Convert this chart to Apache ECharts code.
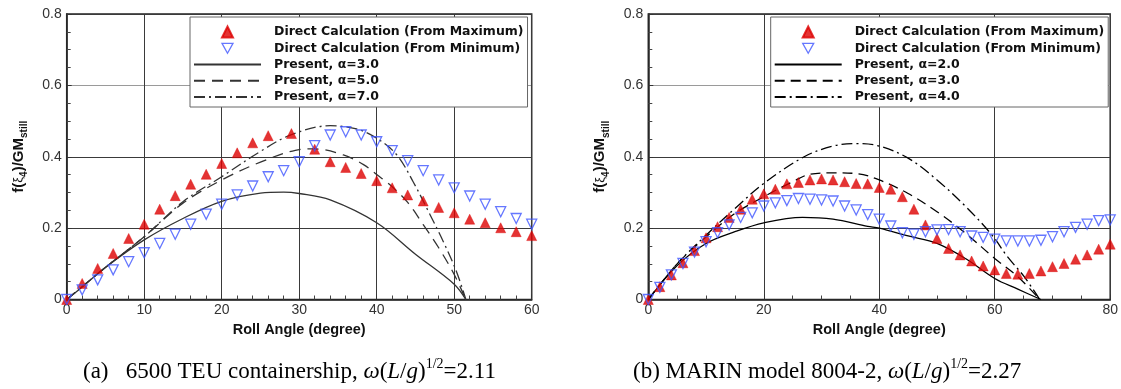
<!DOCTYPE html>
<html>
<head>
<meta charset="utf-8">
<title>Roll restoring comparison</title>
<script src="https://cdn.jsdelivr.net/npm/echarts@6/dist/echarts.min.js"></script>
<style>
  html, body { margin: 0; padding: 0; background: #fff; }
  #chart { width: 1121px; height: 389px; }
</style>
</head>
<body>
<div id="chart"></div>
<script>
// (a) 6500 TEU containership
const leftMaxX = [0, 2, 4, 6, 8, 10, 12, 14, 16, 18, 20, 22, 24, 26, 29, 32, 34, 36, 38, 40, 42, 44, 46, 48, 50, 52, 54, 56, 58, 60];
const leftMaxY = [0, 0.045, 0.087, 0.129, 0.171, 0.211, 0.253, 0.291, 0.323, 0.351, 0.381, 0.411, 0.439, 0.459, 0.465, 0.421, 0.386, 0.37, 0.353, 0.333, 0.313, 0.293, 0.276, 0.258, 0.243, 0.225, 0.215, 0.201, 0.19, 0.179];
const leftMinX = [0, 2, 4, 6, 8, 10, 12, 14, 16, 18, 20, 22, 24, 26, 28, 30, 32, 34, 36, 38, 40, 42, 44, 46, 48, 50, 52, 54, 56, 58, 60];
const leftMinY = [0, 0.027, 0.055, 0.083, 0.106, 0.131, 0.157, 0.183, 0.211, 0.239, 0.267, 0.293, 0.318, 0.344, 0.361, 0.386, 0.431, 0.461, 0.47, 0.461, 0.442, 0.417, 0.389, 0.361, 0.335, 0.313, 0.29, 0.267, 0.246, 0.227, 0.211];
const leftA3X = [0, 2, 5, 10, 15, 20, 25, 28, 30, 34, 40, 45, 50, 51.5];
const leftA3Y = [0, 0.035, 0.09, 0.167, 0.227, 0.275, 0.298, 0.301, 0.297, 0.279, 0.215, 0.127, 0.043, 0];
const leftA5X = [0, 5, 10, 15, 20, 25, 29.5, 32, 35.7, 38.3, 40, 42, 44, 46, 48, 50, 51.5];
const leftA5Y = [0, 0.09, 0.176, 0.27, 0.335, 0.385, 0.418, 0.422, 0.405, 0.378, 0.35, 0.316, 0.272, 0.21, 0.145, 0.07, 0];
const leftA7X = [0, 5, 10, 15, 20, 25, 29, 34, 37.4, 40, 42.6, 44.7, 46.9, 48.6, 50.3, 51.5];
const leftA7Y = [0, 0.09, 0.176, 0.274, 0.344, 0.415, 0.462, 0.487, 0.478, 0.452, 0.405, 0.33, 0.237, 0.162, 0.078, 0];

// (b) MARIN model 8004-2
const rightX = [0, 2, 4, 6, 8, 10, 12, 14, 16, 18, 20, 22, 24, 26, 28, 30, 32, 34, 36, 38, 40, 42, 44, 46, 48, 50, 52, 54, 56, 58, 60, 62, 64, 66, 68, 70, 72, 74, 76, 78, 80];
const rightMaxY = [0, 0.036, 0.069, 0.103, 0.137, 0.173, 0.204, 0.23, 0.253, 0.281, 0.296, 0.309, 0.324, 0.328, 0.335, 0.338, 0.335, 0.33, 0.325, 0.324, 0.314, 0.309, 0.288, 0.253, 0.209, 0.171, 0.143, 0.125, 0.108, 0.094, 0.083, 0.073, 0.071, 0.073, 0.08, 0.092, 0.101, 0.113, 0.125, 0.141, 0.155];
const rightMinY = [0, 0.034, 0.069, 0.101, 0.133, 0.162, 0.187, 0.209, 0.23, 0.243, 0.262, 0.271, 0.277, 0.283, 0.281, 0.279, 0.276, 0.262, 0.251, 0.238, 0.225, 0.206, 0.187, 0.183, 0.19, 0.195, 0.196, 0.19, 0.178, 0.174, 0.169, 0.164, 0.164, 0.164, 0.166, 0.176, 0.19, 0.202, 0.211, 0.221, 0.223];
const rightA2X = [0, 5, 10, 15, 20, 26.7, 32, 38, 40, 45, 50, 55, 60, 64, 68];
const rightA2Y = [0, 0.095, 0.157, 0.19, 0.215, 0.23, 0.225, 0.205, 0.2, 0.178, 0.157, 0.114, 0.059, 0.029, 0];
const rightA3X = [0, 5, 10, 15, 20, 25, 28, 32, 36, 40, 45, 50, 55, 60, 64, 67.8];
const rightA3Y = [0, 0.1, 0.175, 0.241, 0.288, 0.33, 0.351, 0.355, 0.353, 0.335, 0.297, 0.246, 0.185, 0.115, 0.064, 0];
const rightA4X = [0, 5, 10, 15, 20, 27, 32, 36, 40, 45, 50, 55, 59.5, 62.2, 65.1, 67.8];
const rightA4Y = [0, 0.1, 0.18, 0.255, 0.325, 0.4, 0.43, 0.437, 0.43, 0.396, 0.335, 0.26, 0.181, 0.12, 0.064, 0];

const xTitle = 'Roll Angle (degree)';
const yTitle = '{b|f(}{g|\u03BE}{s|4}{b|)/GM}{s|still}';
const nameMax = 'Direct Calculation (From Maximum)';
const nameMin = 'Direct Calculation (From Minimum)';
const leftAlphas = ['Present, \u03B1=3.0', 'Present, \u03B1=5.0', 'Present, \u03B1=7.0'];
// zero-width space keeps right-hand names apart from the left ones
const ZW = '\u200b';
const rightAlphas = ['Present, \u03B1=2.0' + ZW, 'Present, \u03B1=3.0' + ZW, 'Present, \u03B1=4.0' + ZW];

const SANS = '"Liberation Sans", Arial, sans-serif';
const WIDE = '"DejaVu Sans", "Liberation Sans", sans-serif';
const SERIF = '"Liberation Serif", "Times New Roman", serif';
const RED = '#dd0000';
const BLUE = '#3f55ff';
const ROW = 16.25;
const DOWN_TRIANGLE = 'path://M0,0L10,0L5,9Z';

const zip = (xs, ys) => xs.map((x, i) => [x, ys[i]]);

function makeX(grid, max, interval, minorSplit) {
  return {
    type: 'value', gridIndex: grid, min: 0, max: max, interval: interval,
    axisLine: { show: true, onZero: false, lineStyle: { color: '#222', width: 1.5 } },
    axisTick: { show: true, inside: true, length: 5, lineStyle: { color: '#333' } },
    minorTick: { show: true, splitNumber: minorSplit, length: 4, lineStyle: { color: '#444' } },
    splitLine: { show: true, lineStyle: { color: '#3a3a3a', width: 1 } },
    axisLabel: { color: '#333', fontSize: 14, fontFamily: SANS, margin: 4 },
    name: xTitle, nameLocation: 'middle', nameGap: 18,
    nameTextStyle: { color: '#111', fontSize: 14.5, fontWeight: 'bold', fontFamily: SANS }
  };
}

function makeY(grid) {
  return {
    type: 'value', gridIndex: grid, min: 0, max: 0.8, interval: 0.2,
    axisLine: { show: true, onZero: false, lineStyle: { color: '#222', width: 1.5 } },
    axisTick: { show: true, inside: true, length: 5, lineStyle: { color: '#333' } },
    minorTick: { show: true, splitNumber: 4, length: 4, lineStyle: { color: '#444' } },
    splitLine: { show: true, lineStyle: { color: ['#3a3a3a', '#3a3a3a', '#3a3a3a', '#9a9a9a', '#3a3a3a'], width: 1 } },
    axisLabel: { color: '#333', fontSize: 14, fontFamily: SANS, margin: 5 },
    name: yTitle, nameLocation: 'middle', nameGap: 37,
    nameTextStyle: {
      color: '#111', fontFamily: SANS,
      rich: {
        b: { fontSize: 15, fontWeight: 'bold', fontFamily: SANS, color: '#111', lineHeight: 22, verticalAlign: 'middle' },
        g: { fontSize: 13, fontFamily: SANS, color: '#111', lineHeight: 22, verticalAlign: 'middle' },
        s: { fontSize: 10, fontWeight: 'bold', fontFamily: SANS, color: '#111', lineHeight: 22, verticalAlign: 'bottom' }
      }
    }
  };
}

function markers(name, grid, xs, ys, up) {
  return {
    name: name, type: 'scatter', xAxisIndex: grid, yAxisIndex: grid,
    data: zip(xs, ys), symbol: 'triangle', symbolSize: 10,
    symbolRotate: up ? 0 : 180, z: 4,
    itemStyle: up
      ? { color: RED, borderColor: RED, borderWidth: 0.5 }
      : { color: 'rgba(255,255,255,0)', borderColor: BLUE, borderWidth: 1.3 }
  };
}

function curve(name, grid, xs, ys, dash, color) {
  return {
    name: name, type: 'line', xAxisIndex: grid, yAxisIndex: grid,
    data: zip(xs, ys), smooth: 0.35, symbol: 'none', showSymbol: false, z: 3,
    itemStyle: { color: color },
    lineStyle: { color: color, width: 1.3, type: dash }
  };
}

const legendText = { color: '#111', fontSize: 12.5, fontWeight: 'bold', fontFamily: WIDE, lineHeight: 16 };

// the marker rows own the framed box (it stretches down over the line rows);
// the line rows are a second, frameless legend drawn on top of it
function makeLegends(left, maxName, minName, lineNames) {
  const markerLegend = {
    left: left, top: 17, orient: 'vertical',
    data: [
      { name: maxName, icon: 'triangle' },
      { name: minName, icon: DOWN_TRIANGLE, itemStyle: { color: 'rgba(255,255,255,0)', borderColor: BLUE, borderWidth: 1.3 } }
    ],
    itemWidth: 11, itemHeight: 11, itemGap: 0.25,
    padding: [7, 4, 2 + 3 * ROW, 31],
    backgroundColor: '#fff', borderColor: '#666', borderWidth: 1,
    selectedMode: false, z: 4,
    textStyle: Object.assign({ padding: [0, 0, 0, 36] }, legendText)
  };
  const lineLegend = {
    left: left, top: 17, orient: 'vertical',
    data: lineNames.map((n) => ({ name: n, itemStyle: { opacity: 0 } })),
    itemWidth: 67, itemHeight: 11, itemGap: 0.25,
    padding: [7 + 2 * ROW, 0, 0, 3],
    selectedMode: false, z: 5,
    textStyle: Object.assign({ padding: [0, 0, 0, 8] }, legendText)
  };
  return [markerLegend, lineLegend];
}

function caption(x, label, rest, value) {
  return {
    type: 'text', x: x, y: 372,
    style: {
      text: '{n|' + label + rest + '}{i|\u03C9}{n|(}{i|L}{n|/}{i|g}{n|)}{p|1/2}{n|=' + value + '}',
      verticalAlign: 'middle',
      rich: {
        n: { fontFamily: SERIF, fontSize: 23, fill: '#000', lineHeight: 30, verticalAlign: 'middle' },
        i: { fontFamily: SERIF, fontSize: 23, fontStyle: 'italic', fill: '#000', lineHeight: 30, verticalAlign: 'middle' },
        p: { fontFamily: SERIF, fontSize: 14, fill: '#000', lineHeight: 30, verticalAlign: 'top' }
      }
    }
  };
}

const chart = echarts.init(document.getElementById('chart'));

const option = {
  animation: false,
  backgroundColor: '#fff',
  grid: [
    { left: 66.7, top: 14, width: 465, height: 285.5, show: true, borderColor: '#222', borderWidth: 1.5, backgroundColor: 'transparent' },
    { left: 648.3, top: 14, width: 465, height: 285.5, show: true, borderColor: '#222', borderWidth: 1.5, backgroundColor: 'transparent' }
  ],
  xAxis: [makeX(0, 60, 10, 5), makeX(1, 80, 20, 4)],
  yAxis: [makeY(0), makeY(1)],
  legend: makeLegends(190, nameMax, nameMin, leftAlphas)
    .concat(makeLegends(770.7, nameMax + ZW, nameMin + ZW, rightAlphas)),
  series: [
    curve(leftAlphas[0], 0, leftA3X, leftA3Y, 'solid', '#333'),
    curve(leftAlphas[1], 0, leftA5X, leftA5Y, [11, 7], '#333'),
    curve(leftAlphas[2], 0, leftA7X, leftA7Y, [11, 4, 2, 4], '#333'),
    markers(nameMax, 0, leftMaxX, leftMaxY, true),
    markers(nameMin, 0, leftMinX, leftMinY, false),
    curve(rightAlphas[0], 1, rightA2X, rightA2Y, 'solid', '#000'),
    curve(rightAlphas[1], 1, rightA3X, rightA3Y, [10, 6], '#000'),
    curve(rightAlphas[2], 1, rightA4X, rightA4Y, [11, 4, 2, 4], '#000'),
    markers(nameMax + ZW, 1, rightX, rightMaxY, true),
    markers(nameMin + ZW, 1, rightX, rightMinY, false)
  ],
  graphic: [
    caption(83, '(a)   ', '6500 TEU containership, ', '2.11'),
    caption(633, '(b) ', 'MARIN model 8004-2, ', '2.27')
  ]
};

chart.setOption(option);
</script>
</body>
</html>
